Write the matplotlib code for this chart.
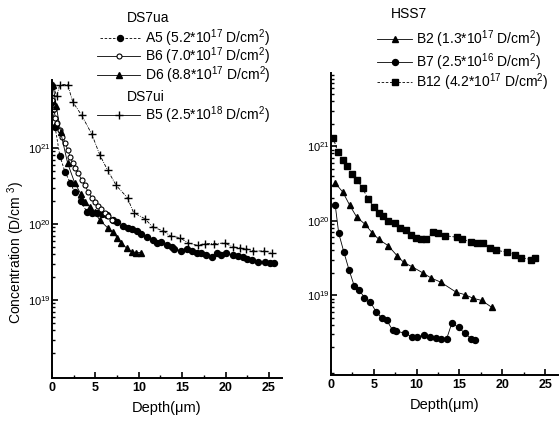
import matplotlib
matplotlib.use('Agg')
import matplotlib.pyplot as plt
from matplotlib.lines import Line2D
from matplotlib.ticker import LogLocator, NullFormatter, MultipleLocator

plt.rcParams['font.family'] = ['Liberation Sans', 'DejaVu Sans']
plt.rcParams['mathtext.fontset'] = 'custom'
plt.rcParams['mathtext.rm'] = 'Liberation Sans'
plt.rcParams['mathtext.it'] = 'Liberation Sans'

# ---- DS7ua / DS7ui (left panel) ----
a5_depth = [0.0, 0.35, 0.9, 1.5, 2.1, 2.6, 3.3, 4.0, 4.6, 5.2, 5.8, 6.3, 7.0, 7.5, 8.2, 8.7,
            9.2, 9.8, 10.3, 10.9, 11.6, 12.1, 12.6, 13.2, 13.8, 14.1, 14.9, 15.5, 16.1, 16.7,
            17.2, 17.8, 18.4, 19.0, 19.5, 20.1, 20.8, 21.4, 22.0, 22.5, 23.1, 23.7, 24.5,
            25.1, 25.6]
a5_conc = [4.0e21, 1.9e21, 7.9e20, 4.8e20, 3.5e20, 2.6e20, 2.0e20, 1.45e20, 1.4e20, 1.38e20,
           1.35e20, 1.3e20, 1.12e20, 1.07e20, 9.3e19, 8.9e19, 8.5e19, 8.1e19, 7.4e19, 6.8e19,
           6.2e19, 5.6e19, 5.8e19, 5.2e19, 5.0e19, 4.7e19, 4.4e19, 4.7e19, 4.4e19, 4.1e19,
           4.2e19, 3.9e19, 3.7e19, 4.1e19, 3.9e19, 4.1e19, 3.9e19, 3.8e19, 3.7e19, 3.5e19,
           3.4e19, 3.2e19, 3.2e19, 3.1e19, 3.1e19]

b6_depth = [0.0, 0.2, 0.4, 0.6, 0.9, 1.2, 1.5, 1.8, 2.1, 2.4, 2.7, 3.0, 3.4, 3.8, 4.2, 4.6,
            4.9, 5.3, 5.7, 6.1, 6.5, 6.9]
b6_conc = [4.2e21, 3.2e21, 2.5e21, 2.1e21, 1.7e21, 1.4e21, 1.17e21, 9.5e20, 7.6e20, 6.3e20,
           5.5e20, 4.7e20, 3.8e20, 3.2e20, 2.6e20, 2.2e20, 1.95e20, 1.74e20, 1.58e20, 1.41e20,
           1.26e20, 1.12e20]

d6_depth = [0.1, 0.5, 1.0, 1.8, 2.6, 3.3, 3.8, 4.4, 4.9, 5.5, 6.4, 7.0, 7.5, 8.0, 8.6, 9.2,
            9.7, 10.2]
d6_conc = [6.8e21, 3.5e21, 1.6e21, 6.3e20, 3.5e20, 2.5e20, 1.95e20, 1.66e20, 1.45e20, 1.12e20,
           8.9e19, 7.9e19, 6.6e19, 5.6e19, 4.8e19, 4.3e19, 4.2e19, 4.2e19]

b5_depth = [0.05, 0.55, 0.9, 1.8, 2.4, 3.4, 4.6, 5.5, 6.4, 7.4, 8.7, 9.4, 10.7, 11.6, 12.8,
            13.7, 14.7, 15.7, 16.8, 17.6, 18.7, 19.9, 20.8, 21.7, 22.4, 23.2, 24.4, 25.3]
b5_conc = [6.8e21, 4.8e21, 6.8e21, 6.8e21, 4.0e21, 2.7e21, 1.5e21, 8.1e20, 5.1e20, 3.2e20,
           2.2e20, 1.4e20, 1.17e20, 9.1e19, 8.1e19, 6.9e19, 6.6e19, 5.6e19, 5.2e19, 5.5e19,
           5.5e19, 5.6e19, 5.0e19, 4.8e19, 4.7e19, 4.4e19, 4.4e19, 4.2e19]

# ---- HSS7 (right panel) ----
b2_depth = [0.5, 1.4, 2.2, 3.0, 4.0, 4.8, 5.6, 6.7, 7.7, 8.5, 9.5, 10.7, 11.7, 12.8, 14.6,
            15.6, 16.6, 17.6, 18.75]
b2_conc = [3.2e20, 2.4e20, 1.6e20, 1.12e20, 8.9e19, 6.9e19, 5.6e19, 4.6e19, 3.4e19, 2.75e19,
           2.4e19, 2.0e19, 1.7e19, 1.5e19, 1.1e19, 1.02e19, 9.1e18, 8.5e18, 6.9e18]

b7_depth = [0.5, 0.9, 1.5, 2.1, 2.7, 3.3, 3.9, 4.6, 5.3, 6.0, 6.5, 7.2, 7.6, 8.6, 9.5, 10.0,
            10.8, 11.6, 12.2, 12.8, 13.5, 14.1, 14.9, 15.6, 16.4, 16.8]
b7_conc = [1.6e20, 6.8e19, 3.8e19, 2.2e19, 1.35e19, 1.17e19, 9.3e18, 8.1e18, 5.9e18, 4.9e18,
           4.6e18, 3.4e18, 3.3e18, 3.1e18, 2.75e18, 2.75e18, 2.9e18, 2.75e18, 2.7e18, 2.6e18,
           2.6e18, 4.2e18, 3.7e18, 3.1e18, 2.6e18, 2.5e18]

b12_depth = [0.25, 0.8, 1.4, 1.9, 2.4, 3.0, 3.7, 4.3, 5.0, 5.6, 6.1, 6.7, 7.5, 8.1, 8.7, 9.3,
             9.9, 10.5, 11.1, 11.9, 12.5, 13.3, 14.7, 15.3, 16.3, 17.0, 17.8, 18.6, 19.3,
             20.5, 21.5, 22.2, 23.4, 23.8]
b12_conc = [1.3e21, 8.3e20, 6.5e20, 5.4e20, 4.2e20, 3.5e20, 2.75e20, 1.95e20, 1.55e20, 1.26e20,
            1.15e20, 9.8e19, 9.3e19, 8.1e19, 7.4e19, 6.5e19, 5.9e19, 5.75e19, 5.6e19, 7.1e19,
            6.8e19, 6.3e19, 6.0e19, 5.6e19, 5.25e19, 5.1e19, 5.0e19, 4.3e19, 4.0e19, 3.8e19,
            3.5e19, 3.2e19, 3.0e19, 3.2e19]

left_labels = ['A5 (5.2*10$^{17}$ D/cm$^{2}$)', 'B6 (7.0*10$^{17}$ D/cm$^{2}$)',
               'D6 (8.8*10$^{17}$ D/cm$^{2}$)', 'B5 (2.5*10$^{18}$ D/cm$^{2}$)']
right_labels = ['B2 (1.3*10$^{17}$ D/cm$^{2}$)', 'B7 (2.5*10$^{16}$ D/cm$^{2}$)',
                'B12 (4.2*10$^{17}$ D/cm$^{2}$)']

W, H = 559, 421
fig = plt.figure(figsize=(W / 100, H / 100), dpi=100)


def rect(x0, y0, x1, y1):
    return [x0 / W, 1 - y1 / H, (x1 - x0) / W, (y1 - y0) / H]


axL = fig.add_axes(rect(52, 80, 282, 378))
axR = fig.add_axes(rect(331, 73, 558, 375))

sL = dict(color='black', lw=0.6)
axL.plot(a5_depth, a5_conc, marker='o', ms=4.3, ls=(0, (3, 2)), **sL)
axL.plot(b6_depth, b6_conc, marker='o', ms=3.6, mfc='white', mew=0.8, ls='-', **sL)
axL.plot(d6_depth, d6_conc, marker='^', ms=5, ls='-', **sL)
axL.plot(b5_depth, b5_conc, marker='+', ms=5.5, mew=1.0, ls=(0, (4, 1.5, 1, 1.5)), **sL)

axR.plot(b2_depth, b2_conc, marker='^', ms=5, ls='-', **sL)
axR.plot(b7_depth, b7_conc, marker='o', ms=4.3, ls='-', **sL)
axR.plot(b12_depth, b12_conc, marker='s', ms=4.2, ls=(0, (3, 2)), **sL)

axL.set_ylim(9.4e17, 7.8e21)
axR.set_ylim(8.5e17, 9.6e21)

for ax in (axL, axR):
    ax.set_yscale('log')
    ax.set_xlim(0, 26.5)
    ax.set_xticks([0, 5, 10, 15, 20, 25])
    ax.xaxis.set_minor_locator(MultipleLocator(2.5))
    ax.set_yticks([1e19, 1e20, 1e21])
    ax.yaxis.set_minor_locator(LogLocator(base=10, subs=range(2, 10)))
    ax.yaxis.set_minor_formatter(NullFormatter())
    ax.spines['top'].set_visible(False)
    ax.spines['right'].set_visible(False)
    ax.spines['left'].set_linewidth(1.4)
    ax.spines['bottom'].set_linewidth(1.4)
    ax.tick_params(axis='both', which='major', direction='in', length=4, width=1.2)
    ax.tick_params(axis='both', which='minor', direction='in', length=2.5, width=1.0)
    ax.tick_params(axis='x', labelsize=9, pad=3)
    ax.tick_params(axis='y', labelsize=8, pad=1)
    for lab in ax.get_xticklabels():
        lab.set_fontweight('bold')
    ax.set_xlabel('Depth(\u03bcm)', fontsize=10.5, labelpad=5)

axL.set_ylabel('Concentration (D/cm $^{3}$)', fontsize=10, labelpad=2)
axL.yaxis.set_label_coords(-0.11, 0.42)


# legends drawn in figure pixel coordinates
def entry(x0, x1, y, tx, text, **kw):
    fy = 1 - y / H
    fig.add_artist(Line2D([x0 / W, x1 / W], [fy, fy], transform=fig.transFigure,
                          color='black', lw=0.6, ls=kw.pop('ls', '-')))
    fig.add_artist(Line2D([(x0 + x1) / 2 / W], [fy], transform=fig.transFigure,
                          color='black', **kw))
    fig.text(tx / W, fy, text, fontsize=10, va='center', ha='left')


fig.text(127 / W, 1 - 18 / H, 'DS7ua', fontsize=10, va='center')
entry(100, 140, 38, 145, left_labels[0], marker='o', ms=4.3, ls=(0, (3, 2)))
entry(97, 140, 56, 145, left_labels[1], marker='o', ms=3.6, mfc='white', mew=0.8)
entry(97, 140, 75, 145, left_labels[2], marker='^', ms=5)
fig.text(127 / W, 1 - 97 / H, 'DS7ui', fontsize=10, va='center')
entry(97, 140, 115, 145, left_labels[3], marker='+', ms=5.5, mew=1.0)

fig.text(391 / W, 1 - 14 / H, 'HSS7', fontsize=10, va='center')
entry(377, 412, 39, 416, right_labels[0], marker='^', ms=5)
entry(377, 412, 62, 416, right_labels[1], marker='o', ms=4.3)
entry(377, 412, 82, 416, right_labels[2], marker='s', ms=4.2, ls=(0, (3, 2)))

plt.savefig('out.png', dpi=100)
